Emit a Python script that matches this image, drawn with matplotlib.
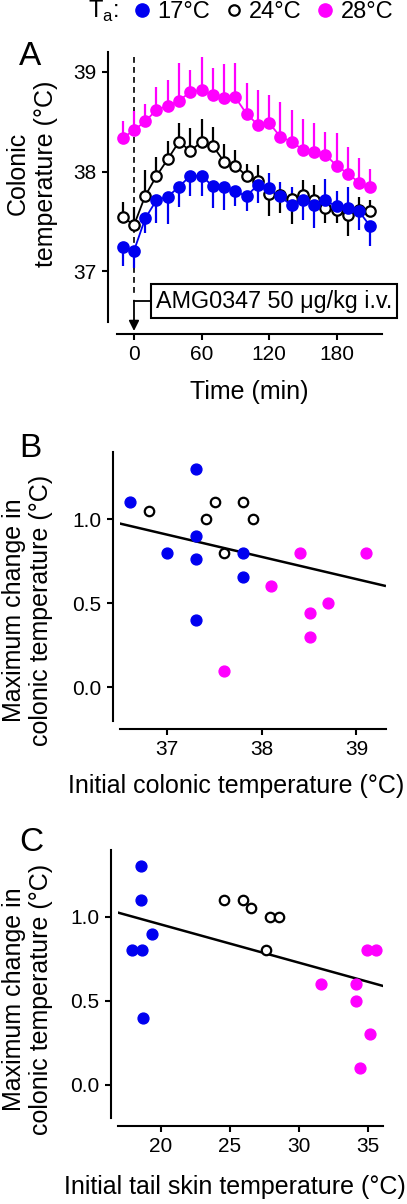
import matplotlib
matplotlib.use('Agg')
import matplotlib.pyplot as plt
import numpy as np
from matplotlib.lines import Line2D

plt.rcParams['font.family'] = ['Liberation Sans', 'DejaVu Sans']
plt.rcParams['mathtext.fontset'] = 'custom'
plt.rcParams['mathtext.rm'] = 'Liberation Sans'

# ---------------- data ----------------
ambient_labels = ['17°C', '24°C', '28°C']
colors = ['#0000f0', 'black', '#ff00ff']

time_min = [-10, 0, 10, 20, 30, 40, 50, 60, 70, 80, 90, 100, 110,
            120, 130, 140, 150, 160, 170, 180, 190, 200, 210]

tc_17 = [37.245, 37.205, 37.53, 37.714, 37.747, 37.848, 37.956, 37.956, 37.855,
         37.84, 37.80, 37.754, 37.865, 37.83, 37.75, 37.66, 37.71, 37.66, 37.71,
         37.65, 37.63, 37.60, 37.45]
# signed SE: positive drawn upward, negative drawn downward
se_17 = [-0.19, -0.17, -0.15, -0.23, -0.27, -0.20, -0.20, -0.20, -0.22, -0.23,
         -0.15, -0.15, -0.18, 0.16, 0.15, 0.18, -0.20, -0.23, 0.22, 0.15, 0.22,
         -0.19, -0.20]

tc_24 = [37.546, 37.462, 37.757, 37.956, 38.124, 38.30, 38.207, 38.298, 38.26,
         38.10, 38.06, 37.956, 37.91, 37.775, 37.76, 37.72, 37.765, 37.715, 37.63,
         37.61, 37.56, 37.61, 37.60]
se_24 = [0.15, 0.18, 0.26, 0.19, 0.18, 0.19, 0.23, 0.23, 0.19, 0.18, 0.16, 0.12,
         0.16, -0.22, -0.18, -0.25, 0.15, 0.15, -0.15, -0.13, -0.21, 0.13, 0.11]

tc_28 = [38.336, 38.416, 38.503, 38.62, 38.66, 38.71, 38.80, 38.815, 38.77, 38.74,
         38.745, 38.58, 38.47, 38.49, 38.35, 38.30, 38.22, 38.20, 38.17, 38.06,
         37.98, 37.89, 37.84]
se_28 = [0.17, 0.19, 0.18, 0.23, 0.26, 0.38, 0.22, 0.33, 0.27, 0.34, 0.34, 0.31,
         0.35, 0.28, 0.35, 0.32, 0.31, 0.29, 0.23, 0.33, 0.27, 0.25, 0.19]

# Panel B: initial colonic temperature vs max change
b_x_17 = [36.61, 37.30, 37.30, 37.00, 37.30, 37.80, 37.80, 37.30]
b_y_17 = [1.10, 1.30, 0.90, 0.80, 0.76, 0.80, 0.657, 0.40]
b_x_24 = [36.81, 37.405, 37.50, 37.80, 37.91, 37.60]
b_y_24 = [1.05, 1.00, 1.10, 1.10, 1.00, 0.80]
b_x_28 = [38.40, 39.10, 38.10, 38.70, 38.51, 38.51, 37.60]
b_y_28 = [0.80, 0.80, 0.60, 0.50, 0.44, 0.30, 0.10]
b_fit_slope = -0.132
b_fit_intercept = 5.791
b_fit_range = [36.51, 39.30]

# Panel C: initial tail skin temperature vs max change
c_x_17 = [18.56, 18.56, 19.35, 17.90, 18.63, 18.74]
c_y_17 = [1.30, 1.10, 0.90, 0.80, 0.80, 0.40]
c_x_24 = [24.57, 25.97, 26.50, 27.90, 28.53, 27.59]
c_y_24 = [1.10, 1.10, 1.05, 1.00, 1.00, 0.80]
c_x_28 = [31.58, 34.11, 34.11, 34.88, 35.56, 35.12, 34.40]
c_y_28 = [0.60, 0.60, 0.50, 0.80, 0.80, 0.30, 0.10]
c_fit_slope = -0.0228
c_fit_intercept = 1.410
c_fit_range = [16.94, 36.04]

# ---------------- layout helpers ----------------
W, H = 407, 1204
fig = plt.figure(figsize=(W / 100, H / 100), dpi=100)

def ax_at(l, r, t, b):
    return fig.add_axes([l / W, 1 - b / H, (r - l) / W, (b - t) / H])

def style(ax, yout, xout):
    for s in ['top', 'right']:
        ax.spines[s].set_visible(False)
    ax.spines['left'].set_position(('outward', yout))
    ax.spines['bottom'].set_position(('outward', xout))
    for s in ['left', 'bottom']:
        ax.spines[s].set_linewidth(1.5)
    ax.tick_params(width=1.5, length=4.5, labelsize=15, pad=3.5, direction='out')
    ax.patch.set_alpha(0)

LBL = 18

# ---------------- panel A ----------------
axA = ax_at(117, 382, 52, 322)
style(axA, 6.5, 8.6)
axA.set_xlim(-15.1, 220.4)
axA.set_ylim(36.49, 39.2)
axA.set_xticks([0, 60, 120, 180])
axA.set_yticks([37, 38, 39])

series = [(tc_28, se_28, colors[2], colors[2]),
          (tc_24, se_24, colors[1], 'white'),
          (tc_17, se_17, colors[0], colors[0])]
for y, se, c, fc in series:
    se = np.asarray(se)
    lower = np.where(se < 0, -se, 0)
    upper = np.where(se > 0, se, 0)
    axA.errorbar(time_min, y, yerr=[lower, upper], fmt='none', ecolor=c,
                 elinewidth=1.6, capsize=0, zorder=2)
    axA.plot(time_min, y, '-', color=c, lw=1.3, marker='o', ms=7.5,
             mfc=fc, mec=c, mew=1.6, zorder=3)

# dashed injection line and annotation
axA.plot([0, 0], [39.15, 36.77], ls=(0, (3.5, 2.5)), color='black', lw=1.2,
         clip_on=False, zorder=1)
axA.plot([0, 14.2], [36.70, 36.70], color='black', lw=1.3, clip_on=False)
axA.annotate('', xy=(0, 36.40), xytext=(0, 36.705),
             arrowprops=dict(arrowstyle='-|>,head_length=0.6,head_width=0.3',
                             color='black', lw=1.3, shrinkA=0, shrinkB=0),
             annotation_clip=False)
axA.text(19.3, 36.70, 'AMG0347 50 μg/kg i.v.', fontsize=16.8, va='center',
         ha='left', clip_on=False,
         bbox=dict(boxstyle='square,pad=0.22', fc='white', ec='black', lw=1.5))

axA.set_xlabel('Time (min)', fontsize=LBL, va='top')
axA.xaxis.set_label_coords(0.5, -0.215)
axA.set_ylabel('Colonic\ntemperature (°C)', fontsize=LBL, linespacing=1.25)
axA.yaxis.set_label_coords(-0.222, 0.55)

# ---------------- panel B ----------------
axB = ax_at(120, 385.7, 451.7, 721)
style(axB, 5.3, 5.8)
axB.set_xlim(36.50, 39.31)
axB.set_ylim(-0.2, 1.4)
axB.set_xticks([37, 38, 39])
axB.set_yticks([0.0, 0.5, 1.0])
axB.set_yticklabels(['0.0', '0.5', '1.0'])

xf = np.array(b_fit_range)
axB.plot(xf, b_fit_intercept + b_fit_slope * xf, color='black', lw=1.8, zorder=2)
axB.plot(b_x_17, b_y_17, 'o', ms=7.8, color=colors[0], mec=colors[0], zorder=3)
axB.plot(b_x_24, b_y_24, 'o', ms=6.8, mfc='white', mec='black', mew=1.6, zorder=3)
axB.plot(b_x_28, b_y_28, 'o', ms=7.8, color=colors[2], mec=colors[2], zorder=3)

axB.set_xlabel('Initial colonic temperature (°C)', fontsize=LBL, va='top')
axB.xaxis.set_label_coords(0.437, -0.195)
axB.set_ylabel('Maximum change in\ncolonic temperature (°C)', fontsize=LBL,
               linespacing=1.15)
axB.yaxis.set_label_coords(-0.252, 0.41)

# ---------------- panel C ----------------
axC = ax_at(117.7, 383.3, 849.5, 1118.3)
style(axC, 5.0, 5.5)
axC.set_xlim(16.89, 36.08)
axC.set_ylim(-0.2, 1.4)
axC.set_xticks([20, 25, 30, 35])
axC.set_yticks([0.0, 0.5, 1.0])
axC.set_yticklabels(['0.0', '0.5', '1.0'])

xf = np.array(c_fit_range)
axC.plot(xf, c_fit_intercept + c_fit_slope * xf, color='black', lw=1.8, zorder=2)
axC.plot(c_x_17, c_y_17, 'o', ms=7.8, color=colors[0], mec=colors[0], zorder=3)
axC.plot(c_x_24, c_y_24, 'o', ms=6.8, mfc='white', mec='black', mew=1.6, zorder=3)
axC.plot(c_x_28, c_y_28, 'o', ms=7.8, color=colors[2], mec=colors[2], zorder=3)

axC.set_xlabel('Initial tail skin temperature (°C)', fontsize=LBL, va='top')
axC.xaxis.set_label_coords(0.4416, -0.21)
axC.set_ylabel('Maximum change in\ncolonic temperature (°C)', fontsize=LBL,
               linespacing=1.15)
axC.yaxis.set_label_coords(-0.244, 0.443)

# ---------------- panel letters ----------------
for letter, yb in [('A', 65), ('B', 457), ('C', 851)]:
    fig.text(19 / W, 1 - yb / H, letter, fontsize=24, va='baseline', ha='left')

# ---------------- legend ----------------
fig.text(88 / W, 1 - 18 / H, 'T$_\\mathregular{a}$:', fontsize=17, va='baseline')
handles = [Line2D([], [], ls='none', marker='o', ms=9.5, color=colors[0]),
           Line2D([], [], ls='none', marker='o', ms=7.5, mfc='white', mec='black', mew=1.6),
           Line2D([], [], ls='none', marker='o', ms=9.5, color=colors[2])]
fig.legend(handles, ambient_labels, loc='center left',
           bbox_to_anchor=(135 / W, 1 - 12 / H), ncol=3, frameon=False,
           fontsize=17, handlelength=0.6, handletextpad=0.35, columnspacing=0.7,
           borderaxespad=0, borderpad=0)

fig.savefig('out.png', dpi=100)
